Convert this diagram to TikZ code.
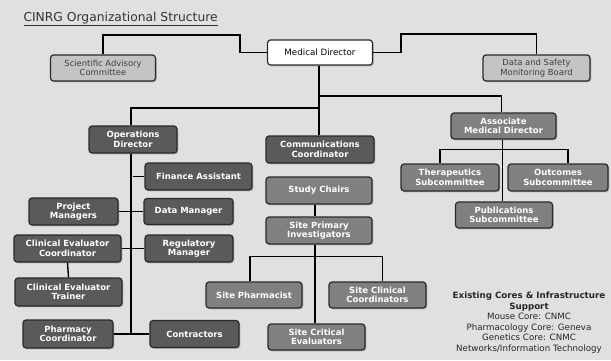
\documentclass[tikz,border=0pt]{standalone}
\usepackage{fontspec}
\setmainfont{DejaVu Sans}
\usetikzlibrary{shadows,calc}
\definecolor{bgc}{HTML}{E0E0E0}
\definecolor{darkf}{HTML}{5A5A5A}
\definecolor{midf}{HTML}{808080}
\definecolor{lightf}{HTML}{C4C4C4}
\definecolor{edge}{HTML}{2A2A2A}
\tikzset{
  box/.style={draw=edge, line width=1.2pt, rounded corners=3pt, align=center,
    inner sep=1pt, font=\fontsize{8.4}{9.6}\selectfont,
    drop shadow={shadow xshift=1.3pt, shadow yshift=-1.3pt, opacity=0.45}},
  darkbox/.style={box, fill=darkf, text=white, font=\fontsize{8.5}{9.6}\selectfont\bfseries},
  midbox/.style={box, fill=midf, text=white, font=\fontsize{8.5}{9.6}\selectfont\bfseries},
  lightbox/.style={box, fill=lightf, text=black!75},
  topbox/.style={box, fill=white, text=black, font=\fontsize{8.7}{9.6}\selectfont},
  link/.style={line width=1.4pt, draw=black}
}
\begin{document}
\begin{tikzpicture}[x=1pt,y=-1pt]
\fill[bgc] (0,0) rectangle (611,360);
\useasboundingbox (0,0) rectangle (611,360);

\node[anchor=base west, text=black!80, font=\fontsize{12.3}{14}\selectfont] (title) at (20,21) {\underline{CINRG Organizational Structure}};

% top level
\node[topbox, minimum width=105pt, minimum height=25pt] (MD) at (320,52.5) {Medical Director};
\node[lightbox, minimum width=105pt, minimum height=26pt] (SAC) at (103,68) {Scientific Advisory\\Committee};
\node[lightbox, minimum width=107pt, minimum height=26pt] (DSMB) at (536.5,68) {Data and Safety\\Monitoring Board};

% second level
\node[darkbox, minimum width=88pt, minimum height=27pt] (OD) at (133,139.5) {Operations\\Director};
\node[darkbox, minimum width=108pt, minimum height=27pt] (CC) at (320,149.5) {Communications\\Coordinator};
\node[midbox, minimum width=105pt, minimum height=26pt] (AMD) at (503.5,126) {Associate\\Medical Director};

% AMD children
\node[midbox, minimum width=98pt, minimum height=27pt] (TS) at (450,177.5) {Therapeutics\\Subcommittee};
\node[midbox, minimum width=100pt, minimum height=27pt] (OS) at (558,177.5) {Outcomes\\Subcommittee};
\node[midbox, minimum width=97pt, minimum height=26pt] (PS) at (504,215) {Publications\\Subcommittee};

% operations
\node[darkbox, minimum width=107pt, minimum height=27pt] (FA) at (198.5,176.5) {Finance Assistant};
\node[darkbox, minimum width=89pt, minimum height=26pt] (DM) at (188.5,211.5) {Data Manager};
\node[darkbox, minimum width=89pt, minimum height=27pt] (PM) at (73.5,211.5) {Project\\Managers};
\node[darkbox, minimum width=107pt, minimum height=27pt] (CEC) at (67.5,248.5) {Clinical Evaluator\\Coordinator};
\node[darkbox, minimum width=88pt, minimum height=27pt] (RM) at (189,248.5) {Regulatory\\Manager};
\node[darkbox, minimum width=107pt, minimum height=28pt] (CET) at (68.5,292) {Clinical Evaluator\\Trainer};
\node[darkbox, minimum width=90pt, minimum height=28pt] (PC) at (68,334) {Pharmacy\\Coordinator};
\node[darkbox, minimum width=89pt, minimum height=27pt] (CO) at (194.5,334) {Contractors};

% study
\node[midbox, minimum width=106pt, minimum height=27pt] (SC) at (319,190.5) {Study Chairs};
\node[midbox, minimum width=106pt, minimum height=27pt] (SPI) at (319,230.5) {Site Primary\\Investigators};
\node[midbox, minimum width=96pt, minimum height=26pt] (SPh) at (254,295) {Site Pharmacist};
\node[midbox, minimum width=97pt, minimum height=26pt] (SCC) at (377.5,295) {Site Clinical\\Coordinators};
\node[midbox, minimum width=97pt, minimum height=26pt] (SCE) at (316.5,337) {Site Critical\\Evaluators};

% text block
\node[align=center, text=black!85, font=\fontsize{8.7}{10.6}\selectfont] (cores) at (529,322.5)
 {{\bfseries Existing Cores \& Infrastructure}\\{\bfseries Support}\\Mouse Core: CNMC\\Pharmacology Core: Geneva\\Genetics Core: CNMC\\Networks/Information Technology};

% connectors
\coordinate (jL) at (319,108);
\coordinate (jR) at (319,96);
\draw[link] (MD.west) -| (240,35) -| (SAC.north);
\draw[link] (MD.east) -| (401,34) -| (DSMB.north);
\draw[link] (MD.south -| jL) -- (CC.north -| jL);
\draw[link] (jL) -| ([xshift=-2pt]OD.north);
\draw[link] (jR) -| ([xshift=-2pt]AMD.north);
\draw[link] ([xshift=-2pt]OD.south) -- ([xshift=-2pt]OD.south |- PC.east);
\draw[link] (FA.west) -- (FA.west -| OD.south);
\draw[link] (PM.east) -- (DM.west);
\draw[link] (CEC.east) -- (RM.west);
\draw[link] (PC.east) -- (CO.west);
\draw[link] (CEC.south) -- (CET.north);
\draw[link] ([xshift=-1pt]AMD.south) -- ([xshift=-1pt]AMD.south |- PS.north);
\draw[link] ([xshift=-10pt]TS.north) -- ++(0,-14) -| ([xshift=10pt]OS.north);
\draw[link] ([xshift=-4pt]SC.south) -- ([xshift=-4pt]SC.south |- SPI.north);
\draw[link] ([xshift=-4pt]SPI.south) -- ([xshift=-4pt]SPI.south |- SCE.north);
\draw[link] ([xshift=-4pt]SPh.north) -- ++(0,-25) -| ([xshift=5pt]SCC.north);
\end{tikzpicture}
\end{document}
